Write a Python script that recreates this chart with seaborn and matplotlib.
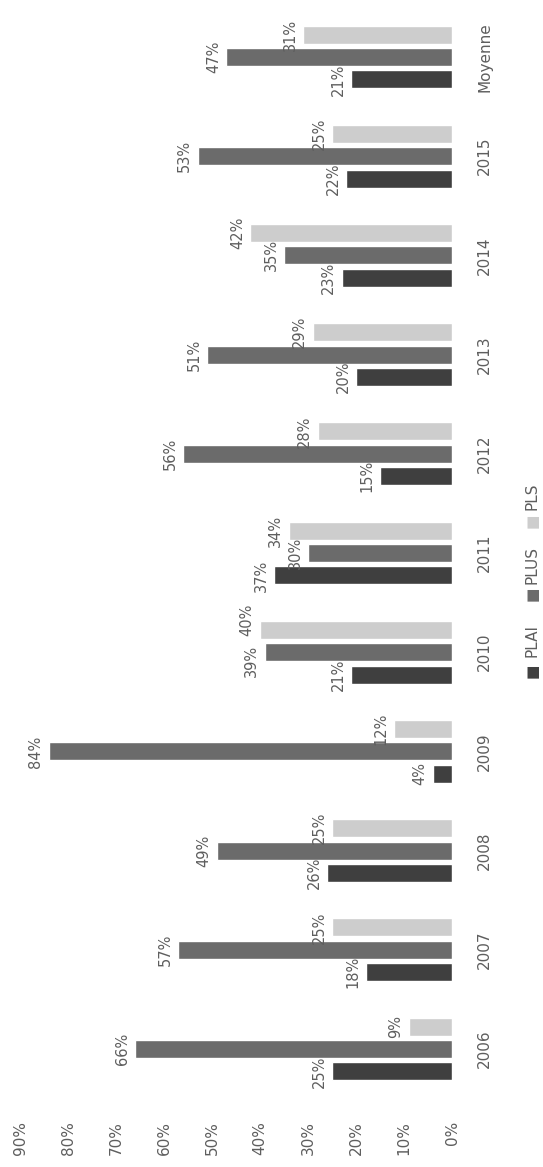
import matplotlib
matplotlib.use("Agg")
import matplotlib.pyplot as plt
import pandas as pd
import seaborn as sns

# Données (en %)
annees = ['2006', '2007', '2008', '2009', '2010', '2011', '2012', '2013', '2014', '2015', 'Moyenne']
plai = [25, 18, 26, 4, 21, 37, 15, 20, 23, 22, 21]
plus = [66, 57, 49, 84, 39, 30, 56, 51, 35, 53, 47]
pls = [9, 25, 25, 12, 40, 34, 28, 29, 42, 25, 31]
series = ['PLAI', 'PLUS', 'PLS']
couleurs = ['#3f3f3f', '#6b6b6b', '#cdcdcd']
graduations = [0, 10, 20, 30, 40, 50, 60, 70, 80, 90]

df = pd.DataFrame({'annee': annees, 'PLAI': plai, 'PLUS': plus, 'PLS': pls})
df = df.melt(id_vars='annee', var_name='type', value_name='pct')

sns.set_style("white")
plt.rcParams['font.family'] = ['DejaVu Sans']
gris = '#5e5e5e'

W, H = 543, 1167
fig = plt.figure(figsize=(W / 100, H / 100), dpi=100)
# axe : 0% a x=452 px, 90% a x=20 px
ax = fig.add_axes([20 / W, (H - 1098.6) / H, (452 - 20) / W, 1091.2 / H])

sns.barplot(data=df, y='annee', x='pct', hue='type', order=annees, hue_order=series,
            palette=couleurs, orient='h', width=0.68, gap=0.2, ax=ax, legend=False)

ax.set_xlim(90, 0)
ax.set_ylim(-0.5, len(annees) - 0.5)

etiquettes = []
for c in ax.containers:
    etiquettes.append(ax.bar_label(c, labels=[f"{int(v)}%" for v in c.datavalues], rotation=90,
                                   padding=4, fontsize=10.5, color=gris))

# 2010 : les étiquettes PLUS / PLS sont écartées comme dans l'original
i2010 = annees.index('2010')
etiquettes[1][i2010].xyann = (etiquettes[1][i2010].xyann[0], -6)
etiquettes[2][i2010].xyann = (etiquettes[2][i2010].xyann[0], 7)

ax.set_xticks(graduations)
ax.set_xticklabels([f"{g}%" for g in graduations], rotation=90, fontsize=11, color=gris)
ax.tick_params(axis='x', length=0, pad=16)
ax.yaxis.tick_right()
ax.set_yticks(range(len(annees)))
ax.set_yticklabels(annees, rotation=90, va='center', fontsize=11, color=gris)
ax.tick_params(axis='y', length=0, pad=18)
ax.set_xlabel("")
ax.set_ylabel("")
sns.despine(ax=ax, left=True, bottom=True, right=True, top=True)

# Légende (tournée)
leg_y = [(671, 641), (594, 565), (521, 496)]
for s, col, (ys, yt) in zip(series, couleurs, leg_y):
    fig.text(532 / W, 1 - ys / H, '■', color=col, rotation=90, ha='center', va='center', fontsize=11)
    fig.text(532 / W, 1 - yt / H, s, color=gris, rotation=90, ha='center', va='center', fontsize=11)

fig.savefig("out.png", dpi=100, facecolor='white')
